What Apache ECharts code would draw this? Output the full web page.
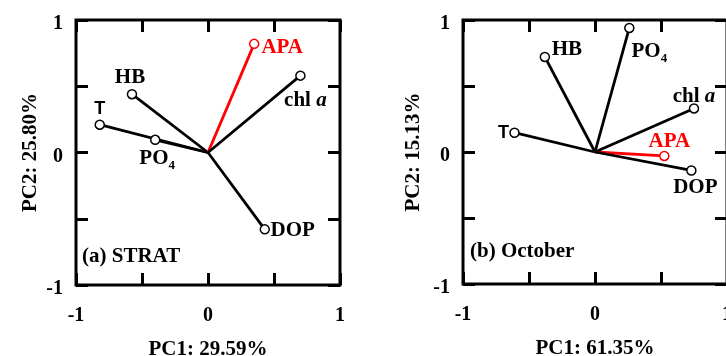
<!DOCTYPE html>
<html>
<head>
    <meta charset="utf-8">
    <title>PCA biplots</title>
    <script src="https://cdn.jsdelivr.net/npm/echarts@6/dist/echarts.min.js"></script>
</head>
<body style="margin:0">
<div id="main" style="width: 726px;height:356px;"></div>
<script type="text/javascript">
    // loadings
    var varNames = ['T', 'HB', 'PO4', 'APA', 'chl a', 'DOP'];
    var pc1Strat = [-0.82, -0.576, -0.40, 0.35, 0.70, 0.43];
    var pc2Strat = [0.21, 0.44, 0.096, 0.82, 0.58, -0.58];
    var pc1Oct = [-0.61, -0.38, 0.26, 0.525, 0.75, 0.73];
    var pc2Oct = [0.146, 0.72, 0.94, -0.03, 0.33, -0.14];
    var axisTicks = [-1, -0.5, 0, 0.5, 1];
    var tickLabels = ['-1', '', '0', '', '1'];

    var serif = 'Liberation Serif';
    var red = '#ff0000';

    // where each label sits, relative to its point (px)
    var offA = {'T': [0, -16], 'HB': [-2, -17], 'PO4': [2, 19], 'APA': [28, 4], 'chl a': [5, 25], 'DOP': [28, 1]};
    var offB = {'T': [-11, 0], 'HB': [22, -7], 'PO4': [20, 24], 'APA': [5, -14], 'chl a': [0, -12], 'DOP': [4, 17]};

    var myChart = echarts.init(document.getElementById('main'));

    function labelText(name) {
        if (name == 'T') return '{t|T}';
        if (name == 'PO4') return '{m|PO}{s|4}';
        if (name == 'chl a') return '{m|chl }{i|a}';
        return '{m|' + name + '}';
    }

    function buildSeries(xs, ys, offs, axisIdx) {
        var out = [];
        var pts = [];
        for (var i = 0; i < varNames.length; i++) {
            var col = varNames[i] == 'APA' ? red : '#000';
            out.push({
                type: 'line',
                xAxisIndex: axisIdx,
                yAxisIndex: axisIdx,
                data: [[0, 0], [xs[i], ys[i]]],
                showSymbol: false,
                symbol: 'none',
                lineStyle: {color: col, width: 2.8},
                z: 2,
                silent: true
            });
            pts.push({
                value: [xs[i], ys[i]],
                itemStyle: {color: '#fff', borderColor: col, borderWidth: 1.5, opacity: 1},
                label: {
                    show: true,
                    position: 'inside',
                    offset: offs[varNames[i]],
                    formatter: labelText(varNames[i]),
                    textBorderWidth: 0,
                    rich: {
                        m: {fontFamily: serif, fontWeight: 'bold', fontSize: 21, color: col, textBorderWidth: 0},
                        i: {fontFamily: serif, fontWeight: 'bold', fontStyle: 'italic', fontSize: 21, color: col, textBorderWidth: 0},
                        s: {fontFamily: serif, fontWeight: 'bold', fontSize: 13, color: col, padding: [14, 0, 0, 0], textBorderWidth: 0},
                        t: {fontFamily: 'Liberation Sans', fontWeight: 'bold', fontSize: 18, color: col, textBorderWidth: 0}
                    }
                }
            });
        }
        out.push({
            type: 'scatter',
            xAxisIndex: axisIdx,
            yAxisIndex: axisIdx,
            symbol: 'circle',
            symbolSize: 9,
            itemStyle: {opacity: 1},
            data: pts,
            z: 5,
            silent: true
        });
        return out;
    }

    function fmt(v) {
        var k = axisTicks.indexOf(v);
        return k >= 0 ? tickLabels[k] : '';
    }
    function fmtY(v) {
        var s = fmt(v);
        return s ? '{v|' + s + '}' : '';
    }

    var tickStyle = {show: true, inside: true, length: 12, lineStyle: {color: '#000', width: 3}};
    var labelStyle = {fontFamily: serif, fontWeight: 'bold', fontSize: 20, color: '#000', formatter: fmt};
    var yLabelStyle = {
        margin: 13, formatter: fmtY,
        rich: {v: {fontFamily: serif, fontWeight: 'bold', fontSize: 20, color: '#000', padding: [8, 0, 0, 0]}}
    };
    var nameStyle = {fontFamily: serif, fontWeight: 'bold', fontSize: 21, color: '#000'};

    function xAx(grid, pos, name) {
        return {
            type: 'value', gridIndex: grid, position: pos, min: -1, max: 1, interval: 0.5,
            axisLine: {show: false, onZero: false}, splitLine: {show: false},
            axisTick: tickStyle,
            axisLabel: pos == 'bottom' ? Object.assign({margin: 21}, labelStyle) : {show: false},
            name: name, nameLocation: 'middle', nameGap: 54, nameTextStyle: nameStyle
        };
    }
    function yAx(grid, pos, name, gap) {
        return {
            type: 'value', gridIndex: grid, position: pos, min: -1, max: 1, interval: 0.5,
            axisLine: {show: false, onZero: false}, splitLine: {show: false},
            axisTick: tickStyle,
            axisLabel: pos == 'left' ? yLabelStyle : {show: false},
            name: name, nameLocation: 'middle', nameGap: gap, nameTextStyle: nameStyle
        };
    }

    var series = buildSeries(pc1Strat, pc2Strat, offA, 0).concat(buildSeries(pc1Oct, pc2Oct, offB, 1));

    var frame = {show: true, borderColor: '#000', borderWidth: 3, backgroundColor: 'transparent', outerBoundsMode: 'none', containLabel: false};
    var plain = {outerBoundsMode: 'none', containLabel: false};

    var option = {
        animation: false,
        grid: [
            Object.assign({left: 76, top: 20, width: 264, height: 265}, frame),
            Object.assign({left: 463, top: 20, width: 264, height: 264}, frame),
            Object.assign({left: 76, top: 20, width: 264, height: 265}, plain),
            Object.assign({left: 463, top: 20, width: 264, height: 264}, plain)
        ],
        xAxis: [
            xAx(0, 'bottom', 'PC1: 29.59%'),
            xAx(1, 'bottom', 'PC1: 61.35%'),
            xAx(2, 'top', ''),
            xAx(3, 'top', '')
        ],
        yAxis: [
            yAx(0, 'left', 'PC2: 25.80%', 35),
            yAx(1, 'left', 'PC2: 15.13%', 39),
            yAx(2, 'right', '', 10),
            yAx(3, 'right', '', 10)
        ],
        graphic: [
            {type: 'text', left: 82, top: 246, style: {text: '(a) STRAT', font: 'bold 21px "Liberation Serif"', fill: '#000'}},
            {type: 'text', left: 470, top: 241, style: {text: '(b) October', font: 'bold 21px "Liberation Serif"', fill: '#000'}}
        ],
        series: series
    };

    myChart.setOption(option);
</script>
</body>
</html>
